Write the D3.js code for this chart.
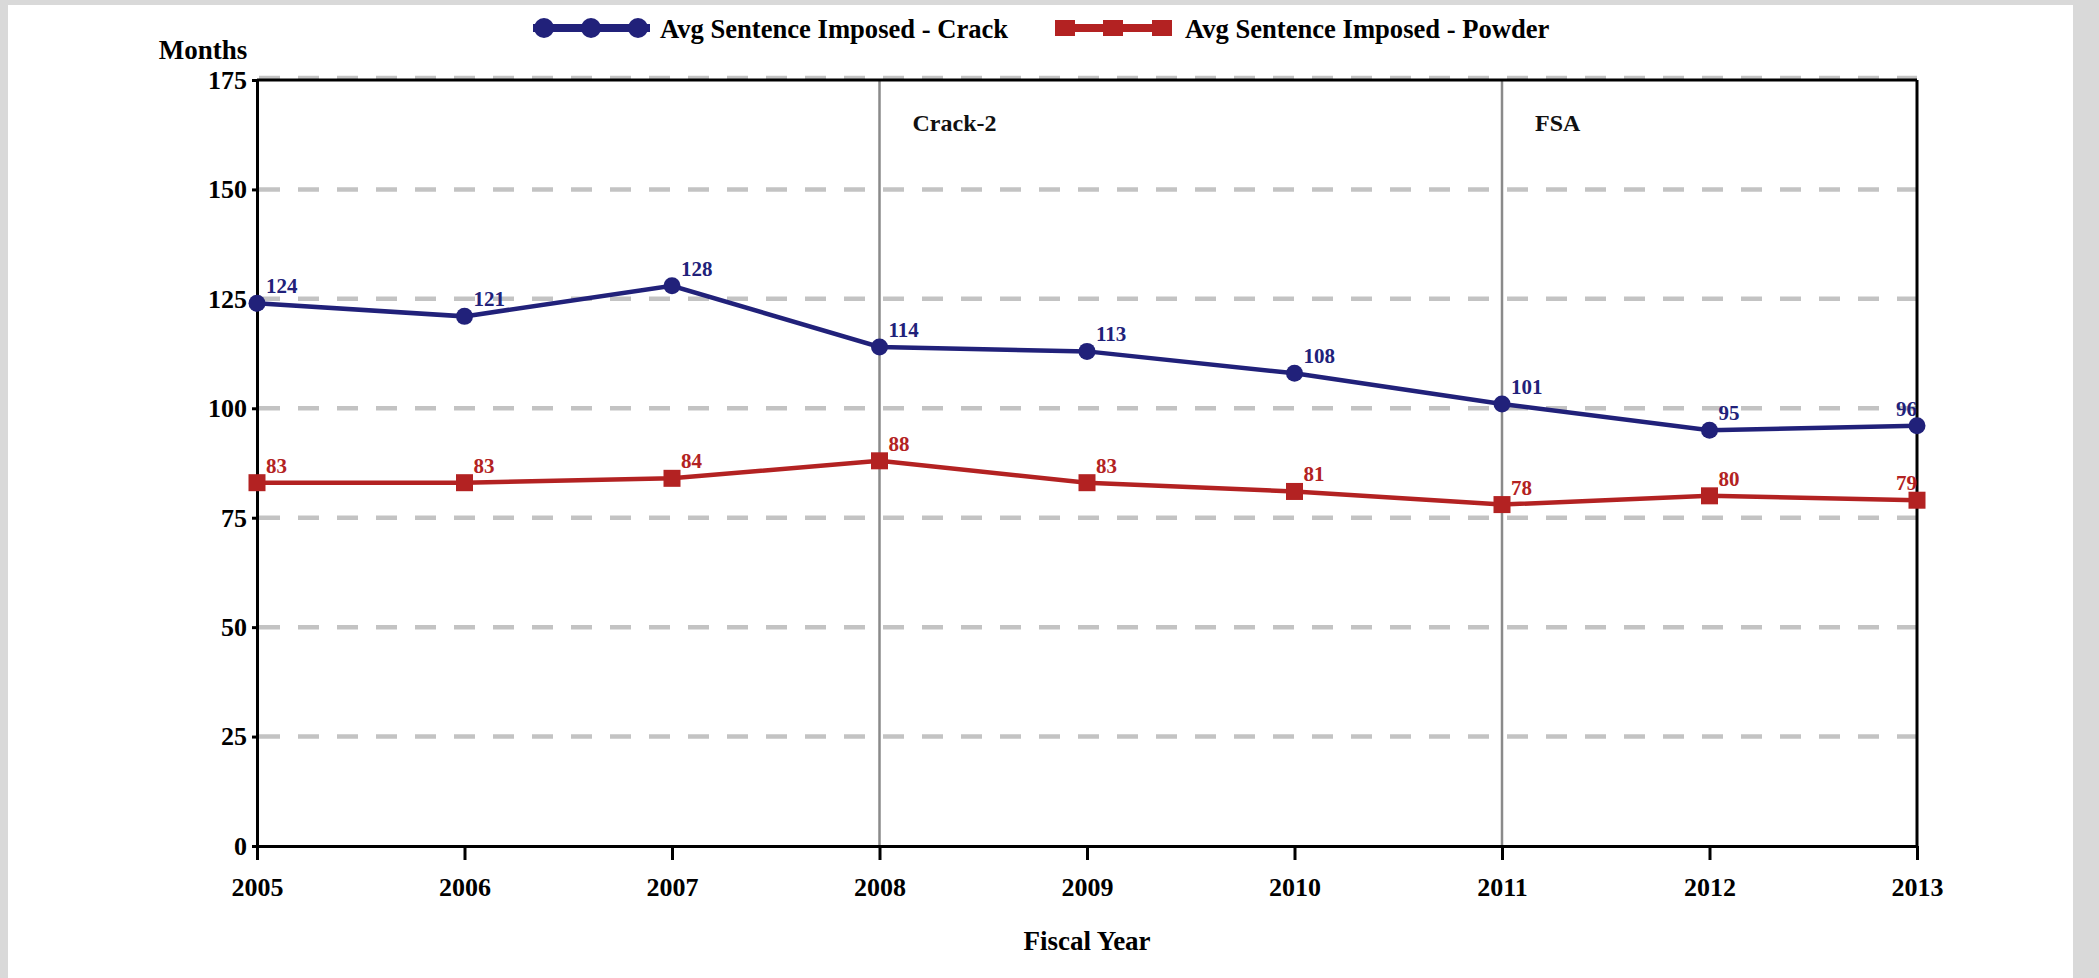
<!DOCTYPE html>
<html>
<head>
<meta charset="utf-8">
<script src="https://cdn.jsdelivr.net/npm/d3@7/dist/d3.min.js"></script>
<style>
  html, body { margin: 0; padding: 0; background: #d9d9d9; }
  svg { display: block; }
  text { font-family: "Liberation Serif", "Times New Roman", Times, serif; font-weight: bold; }
</style>
</head>
<body>
<svg id="chart" width="2099" height="978"></svg>
<script>
// ---- data ----
const years = [2005, 2006, 2007, 2008, 2009, 2010, 2011, 2012, 2013];
const crackValues = [124, 121, 128, 114, 113, 108, 101, 95, 96];
const powderValues = [83, 83, 84, 88, 83, 81, 78, 80, 79];
const yTicks = [0, 25, 50, 75, 100, 125, 150, 175];
const seriesNames = ["Avg Sentence Imposed - Crack", "Avg Sentence Imposed - Powder"];
const eventYears = [2008, 2011];
const eventLabels = ["Crack-2", "FSA"];

const crackColor = "#21217a";
const powderColor = "#b32222";

const svg = d3.select("#chart");

// page background
svg.append("rect").attr("x", 8).attr("y", 5).attr("width", 2065).attr("height", 973).attr("fill", "#ffffff");

const x = d3.scaleLinear().domain([2005, 2013]).range([257, 1917]);
const y = d3.scaleLinear().domain([0, 175]).range([846, 80]);

// gridlines
svg.append("g").selectAll("line").data(yTicks.filter(t => t > 0)).join("line")
  .attr("x1", x(2005) + 2).attr("x2", x(2013))
  .attr("y1", d => d === 175 ? y(d) - 2 : y(d)).attr("y2", d => d === 175 ? y(d) - 2 : y(d))
  .attr("stroke", "#c3c3c3").attr("stroke-width", 4.5)
  .attr("stroke-dasharray", "21,18");

// event lines
svg.append("g").selectAll("line").data(eventYears).join("line")
  .attr("x1", d => x(d)).attr("x2", d => x(d))
  .attr("y1", y(175)).attr("y2", y(0))
  .attr("stroke", "#8a8a8a").attr("stroke-width", 2.5);

svg.append("g").selectAll("text").data(eventYears).join("text")
  .attr("x", d => x(d) + 33).attr("y", 131)
  .attr("font-size", 24).attr("fill", "#111")
  .text((d, i) => eventLabels[i]);

// plot box top/right
svg.append("line").attr("x1", x(2005)).attr("x2", x(2013)).attr("y1", y(175)).attr("y2", y(175))
  .attr("stroke", "#000").attr("stroke-width", 3);
svg.append("line").attr("x1", x(2013)).attr("x2", x(2013)).attr("y1", y(175)).attr("y2", y(0))
  .attr("stroke", "#000").attr("stroke-width", 3);

// y axis
const yAxis = d3.axisLeft(y).tickValues(yTicks).tickSize(5).tickPadding(5).tickFormat(d3.format("d"));
const gy = svg.append("g").attr("transform", `translate(${x(2005)},0)`).call(yAxis);
gy.select(".domain").attr("stroke", "#000").attr("stroke-width", 3);
gy.selectAll(".tick line").attr("stroke", "#000").attr("stroke-width", 3);
gy.selectAll(".tick text").attr("font-size", 26).attr("fill", "#000")
  .attr("font-family", '"Liberation Serif", "Times New Roman", serif').attr("font-weight", "bold");

// x axis
const xAxis = d3.axisBottom(x).tickValues(years).tickSize(14).tickPadding(18).tickSizeOuter(0).tickFormat(d3.format("d"));
const gx = svg.append("g").attr("transform", `translate(0,${y(0)})`).call(xAxis);
gx.select(".domain").attr("stroke", "#000").attr("stroke-width", 3);
gx.selectAll(".tick line").attr("stroke", "#000").attr("stroke-width", 3);
gx.selectAll(".tick text").attr("font-size", 26).attr("fill", "#000")
  .attr("font-family", '"Liberation Serif", "Times New Roman", serif').attr("font-weight", "bold");

// axis titles
svg.append("text").attr("x", 203).attr("y", 59).attr("text-anchor", "middle")
  .attr("font-size", 27).attr("fill", "#000").text("Months");
svg.append("text").attr("x", (x(2005) + x(2013)) / 2).attr("y", 950).attr("text-anchor", "middle")
  .attr("font-size", 27).attr("fill", "#000").text("Fiscal Year");

// series lines
const line = d3.line().x((d, i) => x(years[i])).y(d => y(d));
svg.append("path").datum(powderValues).attr("d", line)
  .attr("fill", "none").attr("stroke", powderColor).attr("stroke-width", 4.5);
svg.append("path").datum(crackValues).attr("d", line)
  .attr("fill", "none").attr("stroke", crackColor).attr("stroke-width", 4.5);

// markers
svg.append("g").selectAll("rect").data(powderValues).join("rect")
  .attr("x", (d, i) => x(years[i]) - 8.5).attr("y", d => y(d) - 8.5)
  .attr("width", 17).attr("height", 17).attr("fill", powderColor);
svg.append("g").selectAll("circle").data(crackValues).join("circle")
  .attr("cx", (d, i) => x(years[i])).attr("cy", d => y(d))
  .attr("r", 8.5).attr("fill", crackColor);

// value labels
function labels(vals, color) {
  svg.append("g").selectAll("text").data(vals).join("text")
    .attr("x", (d, i) => i === vals.length - 1 ? x(years[i]) : x(years[i]) + 9)
    .attr("y", d => y(d) - 10)
    .attr("text-anchor", (d, i) => i === vals.length - 1 ? "end" : "start")
    .attr("font-size", 21).attr("fill", color)
    .text(d => d);
}
labels(crackValues, crackColor);
labels(powderValues, powderColor);

// legend
const lg = svg.append("g");
// crack
lg.append("line").attr("x1", 533).attr("x2", 650).attr("y1", 28).attr("y2", 28)
  .attr("stroke", crackColor).attr("stroke-width", 8);
lg.selectAll("circle").data([544, 591, 638]).join("circle")
  .attr("cx", d => d).attr("cy", 28).attr("r", 10).attr("fill", crackColor);
lg.append("text").attr("x", 660).attr("y", 38).attr("font-size", 26.6).attr("fill", "#000").text(seriesNames[0]);
// powder
lg.append("line").attr("x1", 1055).attr("x2", 1172).attr("y1", 28).attr("y2", 28)
  .attr("stroke", powderColor).attr("stroke-width", 8);
lg.selectAll("rect").data([1065, 1113, 1162]).join("rect")
  .attr("x", d => d - 10).attr("y", 20).attr("width", 20).attr("height", 16).attr("fill", powderColor);
lg.append("text").attr("x", 1185).attr("y", 38).attr("font-size", 26.6).attr("fill", "#000").text(seriesNames[1]);
</script>
</body>
</html>
